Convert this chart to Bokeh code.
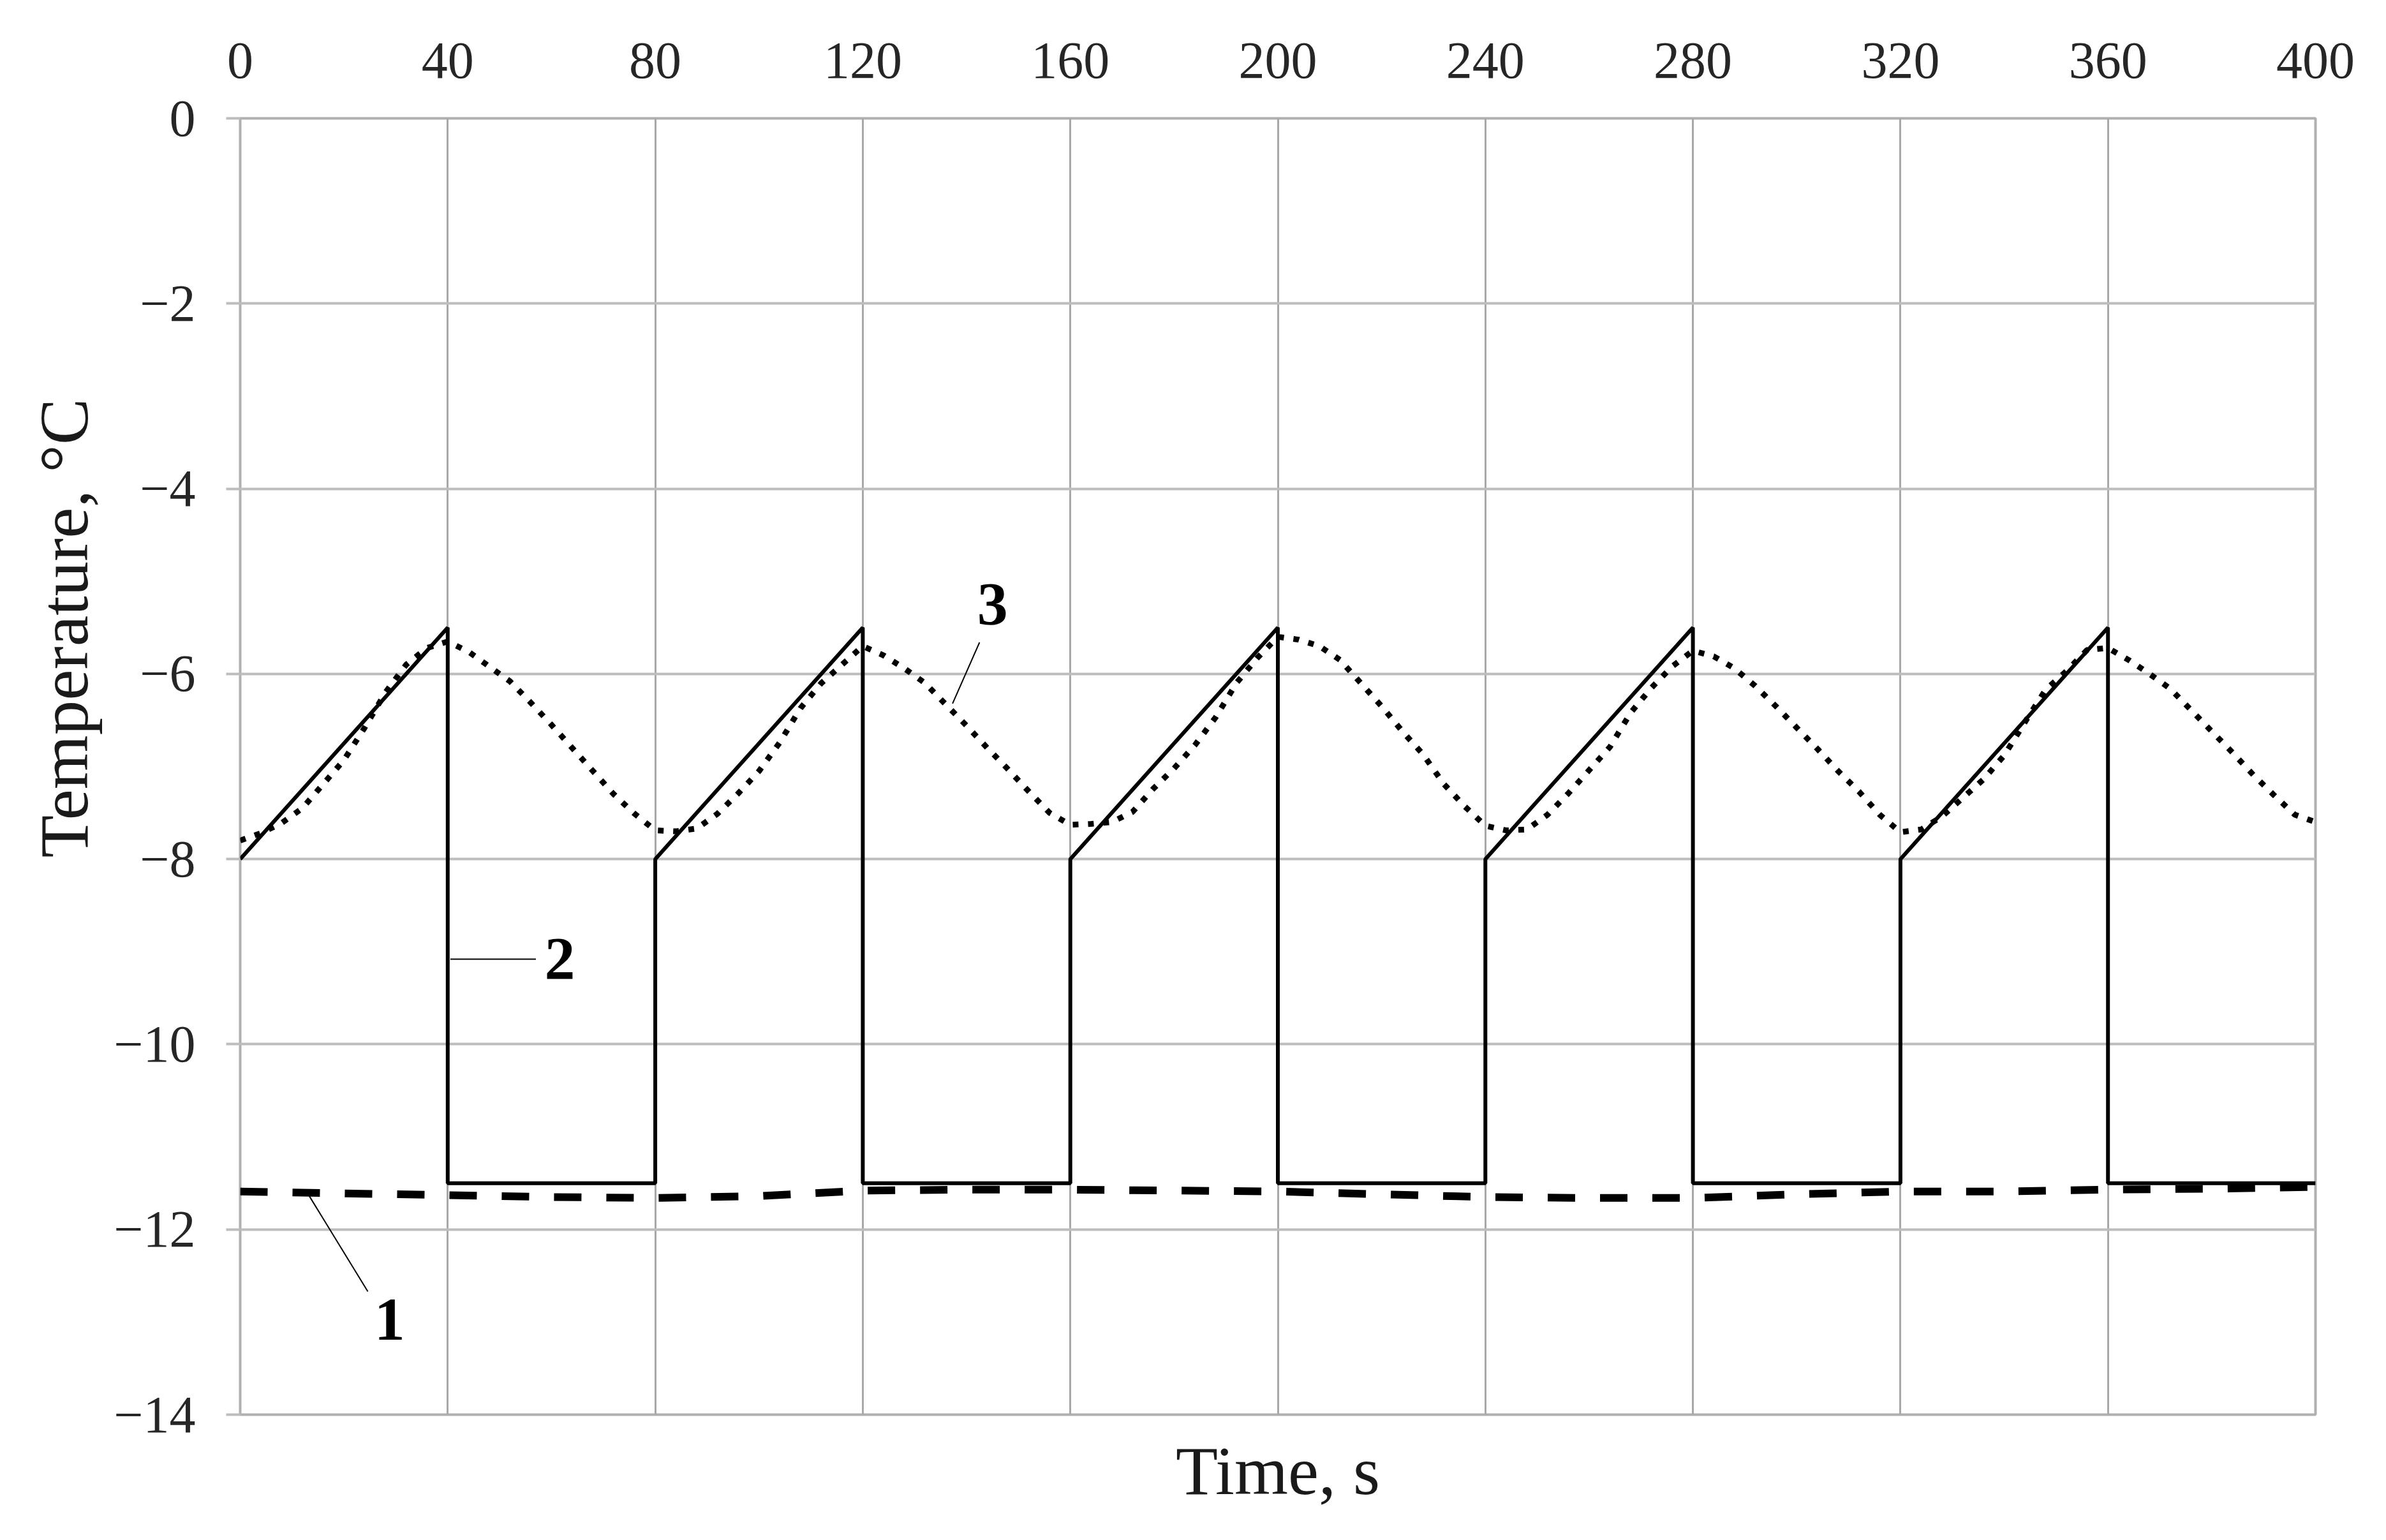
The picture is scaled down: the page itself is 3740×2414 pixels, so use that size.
import math
from bokeh.plotting import figure
from bokeh.models import Range1d, LinearAxis, FixedTicker, Label, Title, ColumnDataSource
from bokeh.embed import file_html
from bokeh.resources import INLINE

# axis ticks
x_ticks = [0, 40, 80, 120, 160, 200, 240, 280, 320, 360, 400]
y_ticks = [-14, -12, -10, -8, -6, -4, -2, 0]
y_tick_labels = {-14: "\u221214", -12: "\u221212", -10: "\u221210", -8: "\u22128",
                 -6: "\u22126", -4: "\u22124", -2: "\u22122", 0: "0"}

# curve 1 (dashed)
t1 = [0, 20, 40, 60, 80, 100, 120, 140, 160, 180, 200,
      220, 240, 260, 280, 300, 320, 340, 360, 380, 400]
temp1 = [-11.59, -11.61, -11.63, -11.65, -11.66, -11.64, -11.58, -11.57, -11.57, -11.58, -11.59,
         -11.62, -11.65, -11.66, -11.66, -11.62, -11.59, -11.59, -11.57, -11.56, -11.54]

# curve 2 (solid)
t2 = [0, 40, 40, 80, 80, 120, 120, 160, 160, 200, 200,
      240, 240, 280, 280, 320, 320, 360, 360, 400]
temp2 = [-8, -5.5, -11.5, -11.5, -8, -5.5, -11.5, -11.5, -8, -5.5, -11.5,
         -11.5, -8, -5.5, -11.5, -11.5, -8, -5.5, -11.5, -11.5]

# curve 3 (dotted)
t3 = [0, 4, 8, 12, 16, 20, 24, 28, 32, 36, 40, 44, 48, 52, 56, 60, 64, 68, 72, 76,
      80, 84, 88, 92, 96, 100, 104, 108, 112, 116, 120, 124, 128, 132, 136, 140, 144, 148, 152, 156,
      160, 164, 168, 172, 176, 180, 184, 188, 192, 196, 200, 204, 208, 212, 216, 220, 224, 228, 232, 236,
      240, 244, 248, 252, 256, 260, 264, 268, 272, 276, 280, 284, 288, 292, 296, 300, 304, 308, 312, 316,
      320, 324, 328, 332, 336, 340, 344, 348, 352, 356, 360, 364, 368, 372, 376, 380, 384, 388, 392, 396,
      400]
temp3 = [-7.80, -7.72, -7.61, -7.45, -7.19, -6.93, -6.58, -6.20, -5.90, -5.72,
         -5.65, -5.76, -5.92, -6.08, -6.31, -6.55, -6.80, -7.05, -7.30, -7.51,
         -7.69, -7.70, -7.67, -7.51, -7.29, -7.05, -6.74, -6.37, -6.10, -5.90,
         -5.70, -5.80, -5.94, -6.10, -6.33, -6.56, -6.80, -7.03, -7.27, -7.50,
         -7.63, -7.62, -7.60, -7.49, -7.24, -7.02, -6.77, -6.47, -6.10, -5.83,
         -5.60, -5.63, -5.70, -5.85, -6.10, -6.35, -6.62, -6.87, -7.19, -7.43,
         -7.64, -7.69, -7.68, -7.52, -7.29, -7.04, -6.79, -6.42, -6.15, -5.92,
         -5.75, -5.81, -5.94, -6.13, -6.35, -6.58, -6.81, -7.05, -7.27, -7.52,
         -7.71, -7.68, -7.54, -7.34, -7.14, -6.88, -6.52, -6.17, -5.97, -5.74,
         -5.72, -5.85, -6.00, -6.16, -6.39, -6.62, -6.85, -7.09, -7.31, -7.52,
         -7.60]

FONT = "Liberation Serif"

p = figure(width=3724, height=2398, output_backend="svg", toolbar_location=None,
           x_range=Range1d(0, 400), y_range=Range1d(-14, 0),
           x_axis_location="above",
           min_border_left=376, min_border_right=95, min_border_top=185, min_border_bottom=181)
p.outline_line_color = "#b0b0b0"
p.outline_line_width = 4
p.background_fill_color = "white"

# top axis with the time ticks
top = p.above[0]
top.ticker = FixedTicker(ticks=x_ticks)
top.axis_line_color = None
top.major_tick_line_color = None
top.minor_tick_line_color = None
top.major_label_standoff = 58
top.major_label_text_font = FONT
top.major_label_text_font_size = "82px"
top.major_label_text_color = "#262626"

# left axis
p.yaxis.ticker = FixedTicker(ticks=y_ticks)
p.yaxis.major_label_overrides = y_tick_labels
p.yaxis.axis_line_color = None
p.yaxis.major_tick_line_color = "#bdbdbd"
p.yaxis.major_tick_line_width = 4
p.yaxis.major_tick_out = 22
p.yaxis.major_tick_in = 0
p.yaxis.minor_tick_line_color = None
p.yaxis.major_label_standoff = 48
p.yaxis.major_label_text_font = FONT
p.yaxis.major_label_text_font_size = "82px"
p.yaxis.major_label_text_color = "#262626"

# y label sits above the centre in the original, so it is a side title with an offset
ylab = Title(text="Temperature, \u00b0C", align="left", offset=873, standoff=30,
             text_font=FONT, text_font_size="109px", text_font_style="normal",
             text_color="#1a1a1a")
p.add_layout(ylab, "left")

# bottom axis only carries the label
bottom = LinearAxis(ticker=FixedTicker(ticks=[]), axis_label="Time, s")
bottom.axis_line_color = None
bottom.major_tick_line_color = None
bottom.minor_tick_line_color = None
bottom.axis_label_standoff = 28
bottom.axis_label_text_font = FONT
bottom.axis_label_text_font_size = "108px"
bottom.axis_label_text_font_style = "normal"
bottom.axis_label_text_color = "#1a1a1a"
p.add_layout(bottom, "below")

p.xgrid.ticker = FixedTicker(ticks=x_ticks)
p.ygrid.ticker = FixedTicker(ticks=y_ticks)
p.xgrid.grid_line_color = "#a8a8a8"
p.xgrid.grid_line_width = 3
p.ygrid.grid_line_color = "#bdbdbd"
p.ygrid.grid_line_width = 4

# curves
p.line(t1, temp1, line_color="black", line_width=12, line_dash="43 39")
p.line(t2, temp2, line_color="black", line_width=6)
p.line(t3, temp3, line_color="black", line_width=9, line_dash="9 15")

# curve numbers with leader lines
leaders = ColumnDataSource(dict(x0=[13.0, 40.5, 142.5], y0=[-11.61, -9.08, -5.66],
                                x1=[24.6, 57.0, 137.3], y1=[-12.67, -9.08, -6.32]))
p.segment("x0", "y0", "x1", "y1", source=leaders, line_color="black", line_width=2)

for txt, lx, ly in [("1", 28.8, -12.97), ("2", 61.6, -9.08), ("3", 145.0, -5.25)]:
    p.add_layout(Label(x=lx, y=ly, text=txt, text_align="center", text_baseline="middle",
                       text_font=FONT, text_font_size="96px", text_font_style="bold",
                       text_color="black"))

open("out.html", "w").write(file_html(p, INLINE))
